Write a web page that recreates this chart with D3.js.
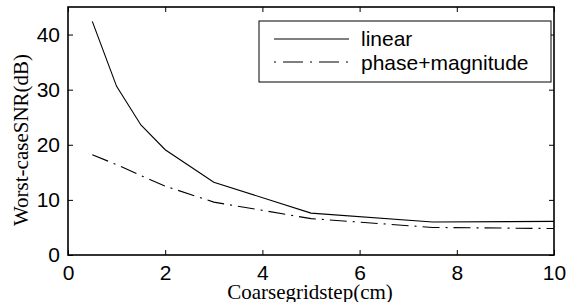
<!DOCTYPE html>
<html>
<head>
<meta charset="utf-8">
<script src="https://cdn.jsdelivr.net/npm/d3@7"></script>
<style>
  body { margin: 0; background: #fff; }
  svg { display: block; }
</style>
</head>
<body>
<script>
// data
var steps = [0.5, 1, 1.5, 2, 3, 5, 7.5, 10];
var linearSNR = [42.4, 30.6, 23.6, 19.1, 13.2, 7.6, 6.0, 6.1];
var phaseMagSNR = [18.2, 16.4, 14.4, 12.5, 9.6, 6.6, 5.0, 4.8];
var xTicks = [0, 2, 4, 6, 8, 10];
var yTicks = [0, 10, 20, 30, 40];
var seriesNames = ["linear", "phase+magnitude"];

var width = 575, height = 302;
// plot box (note: "top" is reserved on window, so use other names)
var boxL = 68, boxR = 554, boxT = 7, boxB = 255;

var svg = d3.select("body").append("svg")
    .attr("width", width)
    .attr("height", height);

var x = d3.scaleLinear().domain([0, 10]).range([boxL, boxR]);
var y = d3.scaleLinear().domain([0, 45]).range([boxB, boxT]);

var tickFont = "'Liberation Sans', Arial, sans-serif";
var labelFont = "'Liberation Serif', 'Times New Roman', serif";

// axes, ticks pointing inwards like matlab
var xAxis = d3.axisBottom(x).tickValues(xTicks).tickSizeInner(-5).tickSizeOuter(0).tickPadding(10);
var yAxis = d3.axisLeft(y).tickValues(yTicks).tickSizeInner(-5).tickSizeOuter(0).tickPadding(8);

svg.append("g").attr("transform", "translate(0," + boxB + ")").call(xAxis);
svg.append("g").attr("transform", "translate(" + boxL + ",0)").call(yAxis);

// top and right mirrored ticks
svg.append("g").attr("transform", "translate(0," + boxT + ")")
    .call(d3.axisTop(x).tickValues(xTicks).tickSizeInner(-5).tickSizeOuter(0).tickFormat(""));
svg.append("g").attr("transform", "translate(" + boxR + ",0)")
    .call(d3.axisRight(y).tickValues(yTicks).tickSizeInner(-5).tickSizeOuter(0).tickFormat(""));

svg.selectAll(".domain").remove();
svg.selectAll(".tick line").attr("stroke", "#000").attr("stroke-width", 1);
svg.selectAll(".tick text")
    .attr("fill", "#000")
    .style("font-family", tickFont)
    .style("font-size", "21px");

// box
svg.append("rect")
    .attr("x", boxL).attr("y", boxT)
    .attr("width", boxR - boxL).attr("height", boxB - boxT)
    .attr("fill", "none").attr("stroke", "#000").attr("stroke-width", 1.6);

// series
var line = d3.line()
    .x(function(d) { return x(d[0]); })
    .y(function(d) { return y(d[1]); });

svg.append("path")
    .datum(d3.zip(steps, linearSNR))
    .attr("d", line)
    .attr("fill", "none").attr("stroke", "#000").attr("stroke-width", 1.1);

svg.append("path")
    .datum(d3.zip(steps, phaseMagSNR))
    .attr("d", line)
    .attr("fill", "none").attr("stroke", "#000").attr("stroke-width", 1.1)
    .attr("stroke-dasharray", "17,6,2,6");

// legend
var lg = svg.append("g");
lg.append("rect")
    .attr("x", 259).attr("y", 21).attr("width", 292).attr("height", 61)
    .attr("fill", "#fff").attr("stroke", "#000").attr("stroke-width", 1);

var dashes = [null, "2,7,20,7"];
seriesNames.forEach(function(name, i) {
    var ly = 39 + i * 23;
    lg.append("line")
        .attr("x1", 274).attr("x2", 349).attr("y1", ly).attr("y2", ly)
        .attr("stroke", "#000").attr("stroke-width", 1.1)
        .attr("stroke-dasharray", dashes[i]);
    lg.append("text")
        .attr("x", 361).attr("y", ly + 7 + i)
        .style("font-family", tickFont).style("font-size", "21px")
        .text(name);
});

// axis labels
svg.append("text")
    .attr("x", 310).attr("y", 299)
    .attr("text-anchor", "middle")
    .style("font-family", labelFont).style("font-size", "21px")
    .text("Coarsegridstep(cm)");

svg.append("text")
    .attr("transform", "translate(28,140) rotate(-90)")
    .attr("text-anchor", "middle")
    .style("font-family", labelFont).style("font-size", "21px")
    .text("Worst-caseSNR(dB)");
</script>
</body>
</html>
